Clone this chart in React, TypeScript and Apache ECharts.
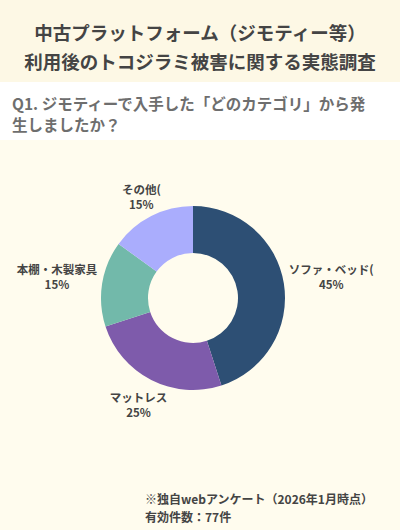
import { useEffect, useRef } from "react";
import * as echarts from "echarts";

const titleLines = [
  "中古プラットフォーム（ジモティー等）",
  "利用後のトコジラミ被害に関する実態調査",
];
const questionLines = [
  "Q1. ジモティーで入手した「どのカテゴリ」から発",
  "生しましたか？",
];
const noteLines = ["※独自webアンケート（2026年1月時点）", "有効件数：77件"];

const categories = ["ソファ・ベッド(", "マットレス", "本棚・木製家具", "その他("];
const shares = [45, 25, 15, 15];
const sliceColors = ["#2d4f74", "#7e5bab", "#72b9aa", "#aaadfd"];

const CX = 193;
const CY = 298;
const R_IN = 45;
const R_OUT = 92;
const FONT = '"Noto Sans CJK JP", "Noto Sans", sans-serif';

export default function App() {
  const chartRef = useRef<HTMLDivElement>(null);

  useEffect(() => {
    document.body.style.margin = "0";
    if (!chartRef.current) return;
    const chart = echarts.init(chartRef.current, undefined, { renderer: "svg" });

    const total = shares.reduce((a, b) => a + b, 0);

    chart.setOption({
      animation: false,
      backgroundColor: "#fffcee",
      textStyle: { fontFamily: FONT },
      graphic: [
        {
          type: "rect",
          shape: { x: 0, y: 0, width: 400, height: 82 },
          style: { fill: "#fdf8e5" },
          z: -1,
        },
        {
          type: "rect",
          shape: { x: 0, y: 82, width: 400, height: 58 },
          style: { fill: "#ffffff" },
          z: -1,
        },
      ],
      title: [
        {
          text: titleLines.join("\n"),
          left: "center",
          top: 17.5,
          padding: 0,
          textStyle: {
            fontFamily: FONT,
            fontSize: 18.5,
            fontWeight: "bold",
            color: "#444444",
            lineHeight: 29,
          },
        },
        {
          text: questionLines.join("\n"),
          left: 12,
          top: 92.5,
          padding: 0,
          textStyle: {
            fontFamily: FONT,
            fontSize: 15.5,
            fontWeight: "bold",
            color: "#6e6e6e",
            lineHeight: 21,
          },
        },
        {
          text: noteLines.join("\n"),
          left: 145,
          top: 489,
          padding: 0,
          textStyle: {
            fontFamily: FONT,
            fontSize: 12,
            fontWeight: "bold",
            color: "#444444",
            lineHeight: 18,
          },
        },
      ],
      series: [
        {
          type: "pie",
          center: [CX, CY],
          radius: [R_IN, R_OUT],
          startAngle: 90,
          clockwise: true,
          silent: true,
          avoidLabelOverlap: false,
          data: categories.map((name, i) => ({
            name,
            value: shares[i],
            itemStyle: { color: sliceColors[i] },
          })),
          label: {
            show: true,
            position: "outside",
            formatter: (p: any) => `${p.name}\n${p.value}%`,
            fontFamily: FONT,
            fontSize: 11.5,
            fontWeight: "bold",
            color: "#444444",
            lineHeight: 15,
          },
          labelLine: { show: false },
          // centre each label on its slice's mid-angle, just clear of the ring
          labelLayout: (params: any) => {
            const i = params.dataIndex;
            const before = shares.slice(0, i).reduce((a, b) => a + b, 0);
            const mid = ((before + shares[i] / 2) / total) * Math.PI * 2;
            const s = Math.sin(mid);
            const c = Math.cos(mid);
            const hw = params.labelRect.width / 2;
            const hh = params.labelRect.height / 2;
            const ext = Math.min(
              Math.abs(s) > 1e-6 ? hw / Math.abs(s) : Infinity,
              Math.abs(c) > 1e-6 ? hh / Math.abs(c) : Infinity,
            );
            const d = R_OUT + 5 + ext + (c < 0 ? 6 : 0);
            return {
              x: CX + d * s,
              y: CY - d * c,
              align: "center",
              verticalAlign: "middle",
            };
          },
        },
      ],
    });

    return () => chart.dispose();
  }, []);

  return <div ref={chartRef} style={{ width: 400, height: 530 }} />;
}
